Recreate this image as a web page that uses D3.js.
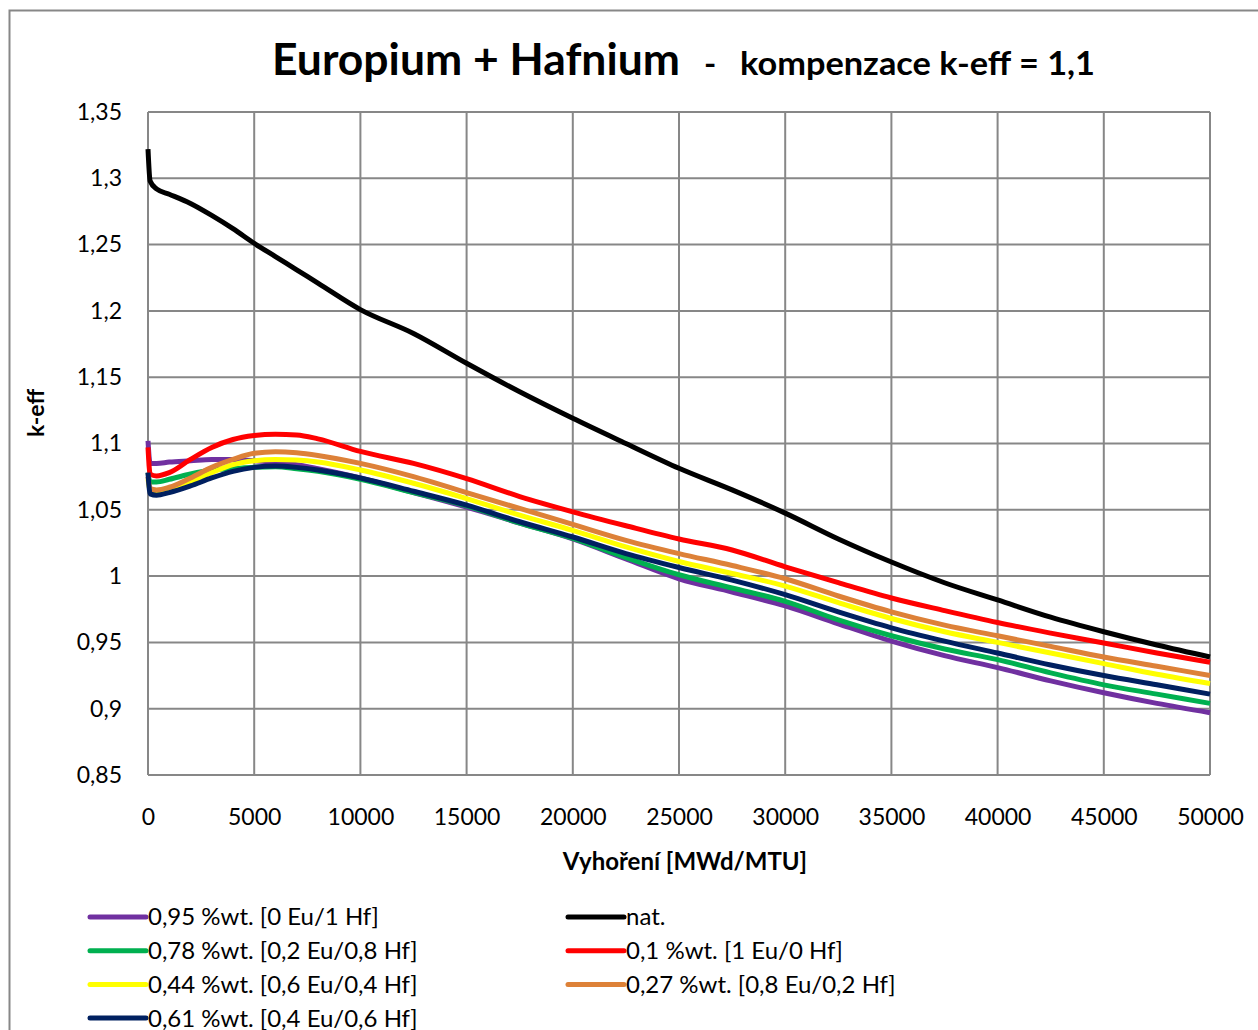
<!DOCTYPE html>
<html>
<head>
<meta charset="utf-8">
<script src="https://cdn.jsdelivr.net/npm/d3@7"></script>
<style>
  html, body { margin: 0; padding: 0; background: #fff; }
  svg { display: block; }
  text { font-family: Lato, "Open Sans", sans-serif; fill: #000; }
</style>
</head>
<body>
<svg id="chart" width="1258" height="1030"></svg>
<script>
// ---- data ----
const burnup = [0, 100, 400, 1000, 2000, 3000, 4000, 5000, 6000, 7000, 8000, 10000, 12500, 15000,
  17500, 20000, 22500, 25000, 27500, 30000, 32500, 35000, 37500, 40000, 42500, 45000, 47500, 50000];

const keffHf100 = [1.102, 1.085, 1.085, 1.086, 1.087, 1.088, 1.088, 1.087, 1.086, 1.084, 1.081, 1.074, 1.063, 1.052,
  1.040, 1.028, 1.013, 0.998, 0.988, 0.9775, 0.964, 0.951, 0.940, 0.931, 0.921, 0.912, 0.904, 0.897];
const keffNat = [1.322, 1.298, 1.292, 1.288, 1.281, 1.272, 1.262, 1.251, 1.241, 1.231, 1.221, 1.201, 1.183, 1.1605,
  1.139, 1.119, 1.100, 1.0813, 1.065, 1.0475, 1.028, 1.0106, 0.995, 0.982, 0.969, 0.958, 0.948, 0.939];
const keffEu20 = [1.078, 1.071, 1.071, 1.073, 1.077, 1.080, 1.081, 1.082, 1.0825, 1.081, 1.079, 1.073, 1.063, 1.053,
  1.040, 1.0285, 1.014, 1.001, 0.991, 0.981, 0.967, 0.955, 0.945, 0.937, 0.927, 0.918, 0.911, 0.904];
const keffEu100 = [1.097, 1.077, 1.0755, 1.078, 1.088, 1.097, 1.103, 1.106, 1.107, 1.1065, 1.1035, 1.094, 1.085, 1.0735,
  1.060, 1.0485, 1.038, 1.028, 1.0197, 1.007, 0.995, 0.9835, 0.974, 0.965, 0.957, 0.9495, 0.942, 0.935];
const keffEu60 = [1.073, 1.064, 1.063, 1.065, 1.071, 1.078, 1.084, 1.087, 1.088, 1.0875, 1.086, 1.080, 1.070, 1.0585,
  1.046, 1.0345, 1.022, 1.011, 1.002, 0.9925, 0.980, 0.968, 0.958, 0.950, 0.942, 0.934, 0.926, 0.919];
const keffEu80 = [1.075, 1.066, 1.065, 1.067, 1.074, 1.082, 1.088, 1.0926, 1.0938, 1.093, 1.091, 1.085, 1.075, 1.063,
  1.051, 1.039, 1.027, 1.017, 1.008, 0.998, 0.985, 0.973, 0.963, 0.955, 0.947, 0.939, 0.932, 0.925];
const keffEu40 = [1.078, 1.062, 1.061, 1.063, 1.068, 1.074, 1.079, 1.082, 1.083, 1.082, 1.080, 1.074, 1.064, 1.0535,
  1.041, 1.0295, 1.017, 1.0065, 0.997, 0.986, 0.973, 0.961, 0.951, 0.942, 0.933, 0.925, 0.918, 0.911];

const seriesNames = ["0,95 %wt. [0 Eu/1 Hf]", "nat.", "0,78 %wt. [0,2 Eu/0,8 Hf]", "0,1 %wt. [1 Eu/0 Hf]",
  "0,44 %wt. [0,6 Eu/0,4 Hf]", "0,27 %wt. [0,8 Eu/0,2 Hf]", "0,61 %wt. [0,4 Eu/0,6 Hf]"];
const seriesValues = [keffHf100, keffNat, keffEu20, keffEu100, keffEu60, keffEu80, keffEu40];
const seriesColors = ["#7030A0", "#000000", "#00B050", "#FF0000", "#FFFF00", "#DD8138", "#002060"];

const xTicks = [0, 5000, 10000, 15000, 20000, 25000, 30000, 35000, 40000, 45000, 50000];
const yTicks = [0.85, 0.9, 0.95, 1, 1.05, 1.1, 1.15, 1.2, 1.25, 1.3, 1.35];

const titleMain = "Europium + Hafnium";
const titleSub = "kompenzace k-eff = 1,1";
const xTitle = "Vyhoření [MWd/MTU]";
const yTitle = "k-eff";

// ---- layout ----
const svg = d3.select("#chart");
const L = 148, T = 112, R = 1210, B = 775;
const x = d3.scaleLinear().domain([0, 50000]).range([L, R]);
const y = d3.scaleLinear().domain([0.85, 1.35]).range([B, T]);
const fmt = d => String(d).replace(".", ",");
const gridCol = "#878787";

// outer chart border
svg.append("rect").attr("x", 9.5).attr("y", 10.5).attr("width", 1260).attr("height", 1040)
  .attr("fill", "none").attr("stroke", gridCol).attr("stroke-width", 2);

// grid
const grid = svg.append("g");
grid.selectAll("line.h").data(yTicks).join("line")
  .attr("x1", L).attr("x2", R).attr("y1", d => y(d)).attr("y2", d => y(d))
  .attr("stroke", gridCol).attr("stroke-width", 2);
grid.selectAll("line.v").data(xTicks).join("line")
  .attr("y1", T).attr("y2", B).attr("x1", d => x(d)).attr("x2", d => x(d))
  .attr("stroke", gridCol).attr("stroke-width", 2);

// axes (labels only)
const xAxis = svg.append("g").attr("transform", `translate(0,${B})`)
  .call(d3.axisBottom(x).tickValues(xTicks).tickSize(0).tickPadding(34).tickFormat(d => d));
const yAxis = svg.append("g").attr("transform", `translate(${L},0)`)
  .call(d3.axisLeft(y).tickValues(yTicks).tickSize(0).tickPadding(26).tickFormat(fmt));
[xAxis, yAxis].forEach(a => {
  a.select(".domain").remove();
  a.selectAll("text").attr("font-family", "Lato").attr("font-size", 23).attr("fill", "#000");
});

// series
const line = d3.line().x(d => x(d[0])).y(d => y(d[1])).curve(d3.curveMonotoneX);
const plot = svg.append("g");
seriesValues.forEach((vals, i) => {
  plot.append("path")
    .datum(burnup.map((b, j) => [b, vals[j]]))
    .attr("d", line)
    .attr("fill", "none")
    .attr("stroke", seriesColors[i])
    .attr("stroke-width", 5)
    .attr("stroke-linejoin", "round");
});

// titles
const title = svg.append("text").attr("y", 75).attr("font-weight", "bold");
title.append("tspan").attr("x", 272).attr("font-size", 44)
  .attr("textLength", 408).attr("lengthAdjust", "spacingAndGlyphs").text(titleMain);
title.append("tspan").attr("x", 704).attr("font-size", 33).text("-");
title.append("tspan").attr("x", 740).attr("font-size", 33)
  .attr("textLength", 355).attr("lengthAdjust", "spacingAndGlyphs").text(titleSub);

svg.append("text").attr("x", 685).attr("y", 870).attr("text-anchor", "middle")
  .attr("font-weight", "bold").attr("font-size", 24).text(xTitle);
svg.append("text").attr("transform", "translate(44,413) rotate(-90)").attr("text-anchor", "middle")
  .attr("font-weight", "bold").attr("font-size", 23).text(yTitle);

// legend (Excel fills row-wise in two columns)
const legend = svg.append("g");
seriesNames.forEach((name, i) => {
  const col = i % 2, row = Math.floor(i / 2);
  const lx = col === 0 ? 90 : 568;
  const ly = 917 + row * 33.7;
  legend.append("line").attr("x1", lx).attr("x2", lx + 56).attr("y1", ly).attr("y2", ly)
    .attr("stroke", seriesColors[i]).attr("stroke-width", 5).attr("stroke-linecap", "round");
  legend.append("text").attr("x", lx + 58).attr("y", ly).attr("dy", "0.35em")
    .attr("font-size", 24).text(name);
});
</script>
</body>
</html>
